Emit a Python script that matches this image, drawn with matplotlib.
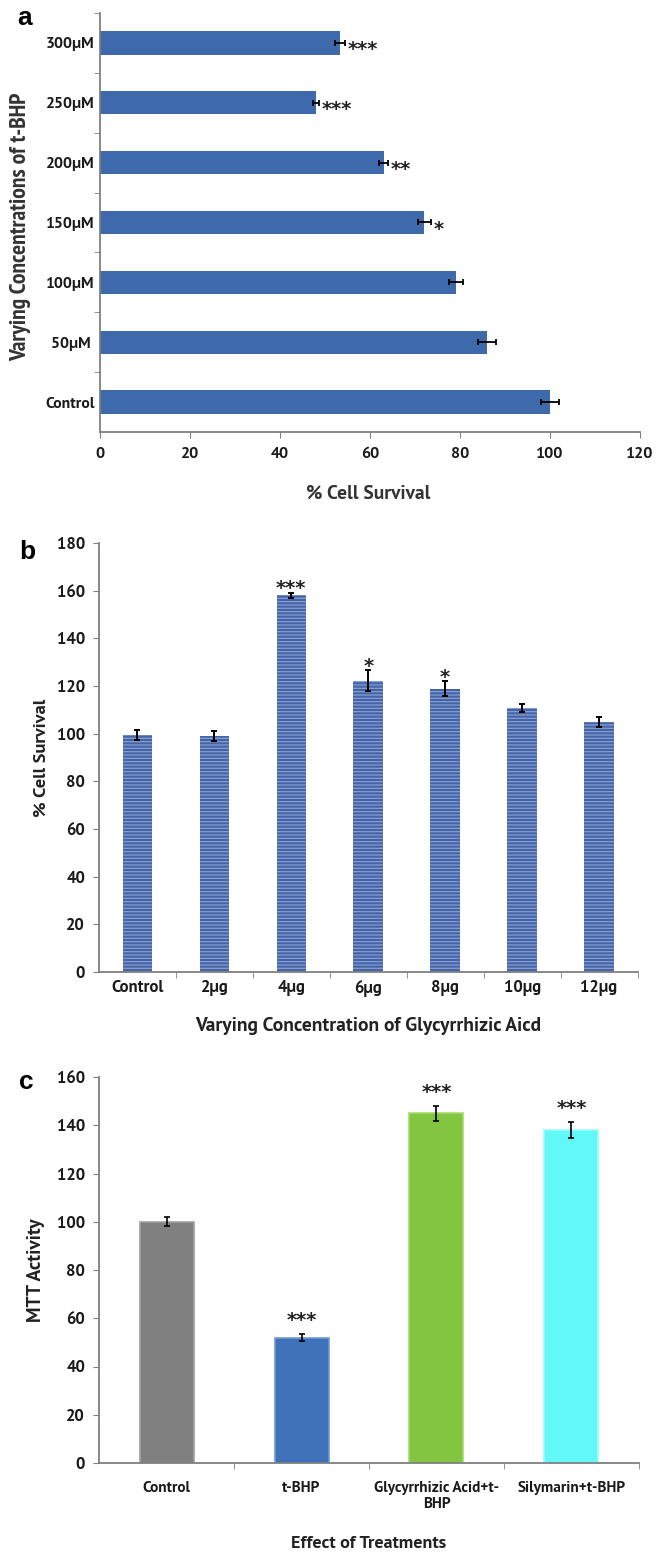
import matplotlib
matplotlib.use("Agg")
import matplotlib.pyplot as plt
import numpy as np
from matplotlib.ticker import FixedLocator, MultipleLocator

plt.rcParams['font.family'] = ['PT Sans', 'DejaVu Sans']
plt.rcParams['hatch.linewidth'] = 0.9

# ---------------- data ----------------
a_labels = ["Control", "50\u00b5M ", "100\u00b5M", "150\u00b5M", "200\u00b5M", "250\u00b5M", "300\u00b5M"]
a_values = [100.0, 86.0, 79.1, 72.1, 63.0, 48.0, 53.3]
a_errors = [2.0, 1.9, 1.6, 1.4, 1.0, 0.7, 1.1]
a_stars = ["", "", "", "*", "**", "***", "***"]

b_labels = ["Control", "2\u00b5g", "4\u00b5g", "6\u00b5g", "8\u00b5g", "10\u00b5g", "12\u00b5g"]
b_values = [99.6, 99.2, 158.0, 122.2, 118.9, 110.9, 104.8]
b_errors = [2.1, 2.1, 1.2, 4.5, 3.0, 1.7, 2.0]
b_stars = ["", "", "***", "*", "*", "", ""]

c_labels = ["Control", "t-BHP", "Glycyrrhizic Acid+t-\nBHP", "Silymarin+t-BHP"]
c_values = [100.0, 52.0, 145.0, 138.0]
c_errors = [1.8, 1.6, 3.1, 3.2]
c_stars = ["", "***", "***", "***"]
c_colors = ["#808080", "#3f72b8", "#83c441", "#62f8f8"]
c_edges = ["#a0a0a0", "#6f9ad6", "#a2dc68", "#9afcfc"]

W, H = 657, 1553
fig = plt.figure(figsize=(W / 100, H / 100), dpi=100)

def rect(l, r, t, b):
    return [l / W, 1 - b / H, (r - l) / W, (b - t) / H]

SPINE = "#7f7f7f"
TXT = "#1a1a1a"
STAR_FONT = ["DejaVu Sans"]

def style(ax):
    for s in ["top", "right"]:
        ax.spines[s].set_visible(False)
    for s in ["left", "bottom"]:
        ax.spines[s].set_color(SPINE)
        ax.spines[s].set_linewidth(1.3)

def ticktext(ax, xsize, ysize):
    for t in ax.get_xticklabels():
        t.set_fontweight("bold"); t.set_fontsize(xsize); t.set_color(TXT)
    for t in ax.get_yticklabels():
        t.set_fontweight("bold"); t.set_fontsize(ysize); t.set_color(TXT)

# ---------------- panel a ----------------
ax = fig.add_axes(rect(100, 640, 13, 432))
style(ax)
ya = np.arange(len(a_labels))
ax.barh(ya, a_values, height=0.39, color="#3e69aa", zorder=2)
ax.errorbar(a_values, ya, xerr=a_errors, fmt="none", ecolor="black",
            elinewidth=1.3, capsize=2.5, capthick=1.3, zorder=3)
for y, v, e, s in zip(ya, a_values, a_errors, a_stars):
    if s:
        ax.annotate(s, (v + e, y), xytext=(2, -5), textcoords="offset points",
                    ha="left", va="center", fontsize=14, fontweight="bold",
                    family=STAR_FONT, color="#222222")
ax.set_xlim(0, 120)
ax.set_ylim(-0.5, len(a_labels) - 0.5)
ax.xaxis.set_major_locator(MultipleLocator(20))
ax.set_yticks(ya)
ax.set_yticklabels(a_labels)
ax.yaxis.set_minor_locator(FixedLocator(np.arange(0.5, len(a_labels), 1.0)))
ax.tick_params(axis="y", which="major", length=0, pad=4)
ax.tick_params(axis="y", which="minor", length=4, color=SPINE, direction="out")
ax.tick_params(axis="x", which="major", length=4, color=SPINE, pad=7)
ticktext(ax, 11.5, 11.3)
ax.set_xlabel("% Cell Survival", fontsize=14, fontweight="bold", color="#333333", va="top")
ax.set_ylabel("Varying Concentrations of t-BHP", fontsize=17, fontweight="bold",
              family=["PT Sans Narrow", "DejaVu Sans"], color="#333333")
ax.xaxis.set_label_coords(0.496, -0.126)
ax.yaxis.set_label_coords(-0.128, 0.49)
fig.text(17 / W, 1 - 18 / H, "a", fontsize=19, fontweight="bold", family=["Liberation Sans"],
         ha="left", va="center")

# ---------------- panel b ----------------
ax = fig.add_axes(rect(99, 637.5, 543, 972))
style(ax)
xb = np.arange(len(b_labels))
ax.bar(xb, b_values, width=0.385, color="#4464a6", edgecolor="#869ed2",
       linewidth=0, hatch="-----", zorder=2)
ax.errorbar(xb, b_values, yerr=b_errors, fmt="none", ecolor="black",
            elinewidth=1.4, capsize=2, capthick=1.4, zorder=3)
for x, v, e, s in zip(xb, b_values, b_errors, b_stars):
    if s:
        ax.annotate(s, (x, v + e), xytext=(0, -4), textcoords="offset points",
                    ha="center", va="bottom", fontsize=14, fontweight="bold",
                    family=STAR_FONT, color="#222222")
ax.set_ylim(0, 180)
ax.set_xlim(-0.5, len(b_labels) - 0.5)
ax.yaxis.set_major_locator(MultipleLocator(20))
ax.set_xticks(xb)
ax.set_xticklabels(b_labels)
ax.xaxis.set_minor_locator(FixedLocator(np.arange(0.5, len(b_labels), 1.0)))
ax.tick_params(axis="x", which="major", length=0, pad=6)
ax.tick_params(axis="x", which="minor", length=4, color=SPINE)
ax.tick_params(axis="y", which="major", length=4, color=SPINE, pad=6)
ticktext(ax, 12, 12)
ax.set_xlabel("Varying Concentration of Glycyrrhizic Aicd", fontsize=14, fontweight="bold",
              color="#222222", va="top")
ax.set_ylabel("% Cell Survival", fontsize=13.3, fontweight="bold", color="#222222")
ax.xaxis.set_label_coords(0.5, -0.105)
ax.yaxis.set_label_coords(-0.093, 0.5)
fig.text(19 / W, 1 - 552 / H, "b", fontsize=19, fontweight="bold", family=["Liberation Sans"],
         ha="left", va="center")

# ---------------- panel c ----------------
ax = fig.add_axes(rect(99, 639, 1077, 1463))
style(ax)
xc = np.arange(len(c_labels))
ax.bar(xc, c_values, width=0.40, color=c_colors, edgecolor=c_edges, linewidth=1.2, zorder=2)
ax.errorbar(xc, c_values, yerr=c_errors, fmt="none", ecolor="black",
            elinewidth=1.2, capsize=2, capthick=1.2, zorder=3)
for x, v, e, s in zip(xc, c_values, c_errors, c_stars):
    if s:
        ax.annotate(s, (x, v + e), xytext=(0, 3), textcoords="offset points",
                    ha="center", va="bottom", fontsize=14, fontweight="bold",
                    family=STAR_FONT, color="#222222")
ax.set_ylim(0, 160)
ax.set_xlim(-0.5, len(c_labels) - 0.5)
ax.yaxis.set_major_locator(MultipleLocator(20))
ax.set_xticks(xc)
ax.set_xticklabels(c_labels, linespacing=1.2)
ax.xaxis.set_minor_locator(FixedLocator(np.arange(0.5, len(c_labels), 1.0)))
ax.tick_params(axis="x", which="major", length=0, pad=13)
ax.tick_params(axis="x", which="minor", length=4, color=SPINE)
ax.tick_params(axis="y", which="major", length=4, color=SPINE, pad=6)
ticktext(ax, 11, 12)
ax.set_xlabel("Effect of Treatments", fontsize=13, fontweight="bold", color="#222222", va="top")
ax.set_ylabel("MTT Activity", fontsize=14, fontweight="bold", color="#222222")
ax.xaxis.set_label_coords(0.5, -0.19)
ax.yaxis.set_label_coords(-0.1, 0.5)
fig.text(19 / W, 1 - 1082 / H, "c", fontsize=19, fontweight="bold", family=["Liberation Sans"],
         ha="left", va="center")

fig.savefig("out.png", dpi=100, facecolor="white")
